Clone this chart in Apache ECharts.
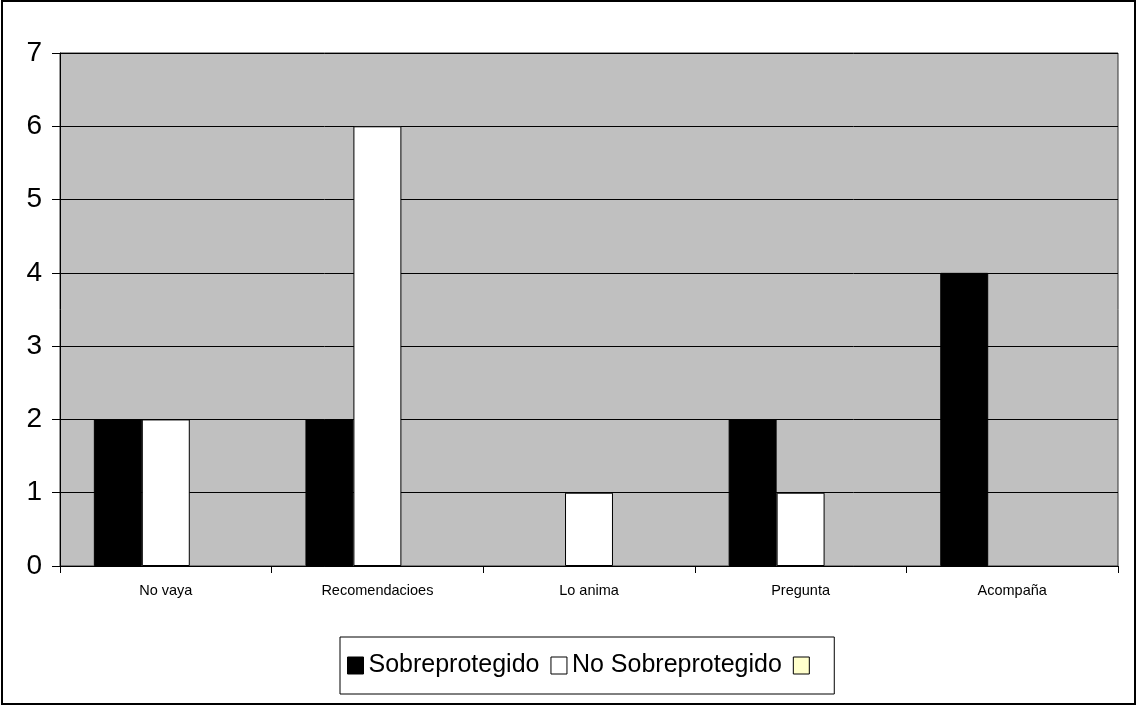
<!DOCTYPE html>
<html>
<head>
<meta charset="utf-8">
<script src="https://cdn.jsdelivr.net/npm/echarts@6/dist/echarts.min.js"></script>
<style>
html,body{margin:0;padding:0;background:#fff;}
#c{width:1137px;height:706px;}
</style>
</head>
<body>
<div id="c"></div>
<script>
var categories = ['No vaya', 'Recomendacioes', 'Lo anima', 'Pregunta', 'Acompaña'];
var sobreprotegido = [2, 2, 0, 2, 4];
var noSobreprotegido = [2, 6, 1, 1, 0];
var tercera = [0, 0, 0, 0, 0];
var yTicks = [0, 1, 2, 3, 4, 5, 6, 7];

function hideZero(arr) {
  return arr.map(function (v) {
    return v === 0 ? {value: 0, itemStyle: {borderWidth: 0, opacity: 0}} : v;
  });
}

var chart = echarts.init(document.getElementById('c'));
var font = '"Liberation Sans", Arial, sans-serif';
chart.setOption({
  animation: false,
  backgroundColor: '#ffffff',
  graphic: [{
    type: 'rect',
    shape: {x: 2, y: 1, width: 1133, height: 703},
    style: {fill: 'none', stroke: '#000', lineWidth: 2},
    z: 100
  }],
  grid: {
    left: 60, right: 19, top: 53, bottom: 140,
    show: true, backgroundColor: '#C0C0C0', borderColor: '#333', borderWidth: 1
  },
  legend: {
    bottom: 12,
    left: 340,
    data: ['Sobreprotegido', 'No Sobreprotegido', ' '],
    icon: 'rect',
    itemWidth: 16,
    itemHeight: 17,
    itemGap: 11,
    borderColor: '#000',
    borderWidth: 1,
    padding: [16, 13, 16, 7],
    textStyle: {fontFamily: font, fontSize: 25, color: '#000'},
    itemStyle: {borderColor: '#000', borderWidth: 1}
  },
  xAxis: {
    type: 'category',
    data: categories,
    axisLine: {lineStyle: {color: '#000', width: 1}},
    axisTick: {show: true, length: 7, lineStyle: {color: '#000'}},
    axisLabel: {fontFamily: font, fontSize: 14.5, color: '#000', margin: 17}
  },
  yAxis: {
    type: 'value',
    min: yTicks[0],
    max: yTicks[yTicks.length - 1],
    interval: 1,
    axisLine: {show: true, lineStyle: {color: '#000', width: 1}},
    axisTick: {show: true, length: 8, lineStyle: {color: '#000'}},
    splitLine: {lineStyle: {color: '#000', width: 1}},
    axisLabel: {fontFamily: font, fontSize: 28, color: '#000', margin: 18}
  },
  series: [
    {name: 'Sobreprotegido', type: 'bar', data: hideZero(sobreprotegido), barGap: '0%', barCategoryGap: '32%',
     itemStyle: {color: '#000000', borderColor: '#000', borderWidth: 1}},
    {name: 'No Sobreprotegido', type: 'bar', data: hideZero(noSobreprotegido), barGap: '0%', barCategoryGap: '32%',
     itemStyle: {color: '#ffffff', borderColor: '#000', borderWidth: 1}},
    {name: ' ', type: 'bar', data: hideZero(tercera), barGap: '0%', barCategoryGap: '32%',
     itemStyle: {color: '#FFFFCC', borderColor: '#000', borderWidth: 1}}
  ]
});
</script>
</body>
</html>
